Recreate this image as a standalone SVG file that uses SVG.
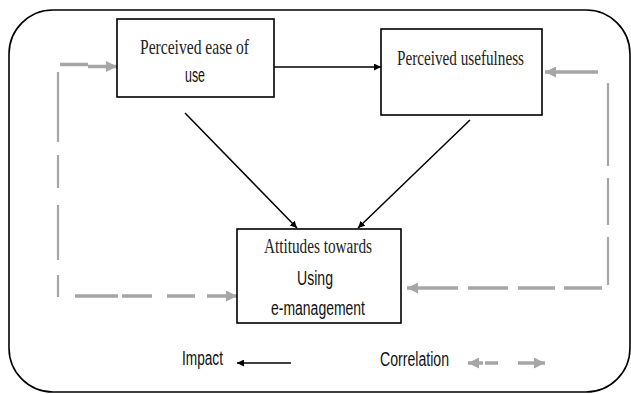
<svg xmlns="http://www.w3.org/2000/svg" width="631" height="394" viewBox="0 0 631 394">
<defs>
<style>
.box{fill:#fff;stroke:#000;stroke-width:1.6}
.serif{font-family:"Liberation Serif","Times New Roman",serif;fill:#222}
.sans{font-family:"Liberation Sans",Arial,sans-serif;fill:#111}
.imp{stroke:#000;stroke-width:1.5;fill:none}
.cor{stroke:#a6a6a6;stroke-width:3.5;fill:none}
.corv{stroke:#a6a6a6;stroke-width:2.2;fill:none}
</style>
<marker id="ah" viewBox="0 0 10 10" refX="10" refY="5" markerWidth="7" markerHeight="7" markerUnits="userSpaceOnUse" orient="auto"><path d="M0,0L10,5L0,10z" fill="#000"/></marker>
<marker id="gh" viewBox="0 0 10 10" refX="10" refY="5" markerWidth="11" markerHeight="11" markerUnits="userSpaceOnUse" orient="auto"><path d="M0,0L10,5L0,10z" fill="#a6a6a6"/></marker>
</defs>
<rect x="9" y="10" width="621" height="382" rx="44" ry="44" fill="#fff" stroke="#000" stroke-width="1.6"/>
<g id="connectors">
<line class="imp" x1="274" y1="67" x2="381" y2="67" marker-end="url(#ah)"/>
<line class="imp" x1="185" y1="113" x2="297" y2="228" marker-end="url(#ah)"/>
<line class="imp" x1="470" y1="120" x2="358" y2="228" marker-end="url(#ah)"/>
<path class="cor" d="M60,64.5H88"/>
<path class="cor" d="M88,66.5H117" marker-end="url(#gh)"/>
<path class="corv" d="M58,72V142M58,155V188M58,205V260M58,275V297"/>
<path class="cor" d="M75,296H118M122,296H152M167,296H195"/>
<path class="cor" d="M207,296H237" marker-end="url(#gh)"/>
<path class="cor" d="M598,72H545" marker-end="url(#gh)"/>
<path class="corv" d="M608,83V166M608,178V225M608,237V285"/>
<path class="cor" d="M602,288H564M555,288H518M508,288H468"/>
<path class="cor" d="M458,288H407" marker-end="url(#gh)"/>
<line class="imp" x1="291" y1="363" x2="237" y2="363" marker-end="url(#ah)"/>
<path class="cor" d="M483,363H468" marker-end="url(#gh)"/>
<path class="cor" d="M485,363H498"/>
<path class="cor" d="M518,363H545" marker-end="url(#gh)"/>
</g>
<g id="node-ease">
<rect class="box" x="117" y="19" width="157" height="78"/>
<text class="serif" x="140" y="54" font-size="22" textLength="109" lengthAdjust="spacingAndGlyphs">Perceived ease of</text>
<text class="sans" x="185" y="82" font-size="20" textLength="20" lengthAdjust="spacingAndGlyphs">use</text>
</g>
<g id="node-usefulness">
<rect class="box" x="381" y="29" width="161" height="86"/>
<text class="serif" x="397" y="65" font-size="22" textLength="127" lengthAdjust="spacingAndGlyphs">Perceived usefulness</text>
</g>
<g id="node-attitudes">
<rect class="box" x="237" y="229" width="164" height="94"/>
<text class="serif" x="264" y="253" font-size="20" textLength="108" lengthAdjust="spacingAndGlyphs">Attitudes towards</text>
<text class="sans" x="297" y="285" font-size="20" textLength="36" lengthAdjust="spacingAndGlyphs">Using</text>
<text class="sans" x="271" y="315" font-size="20" textLength="94" lengthAdjust="spacingAndGlyphs">e-management</text>
</g>
<g id="legend">
<text class="sans" x="182" y="365" font-size="20" textLength="41" lengthAdjust="spacingAndGlyphs">Impact</text>
<text class="sans" x="380" y="366" font-size="20" textLength="69" lengthAdjust="spacingAndGlyphs">Correlation</text>
</g>
</svg>
